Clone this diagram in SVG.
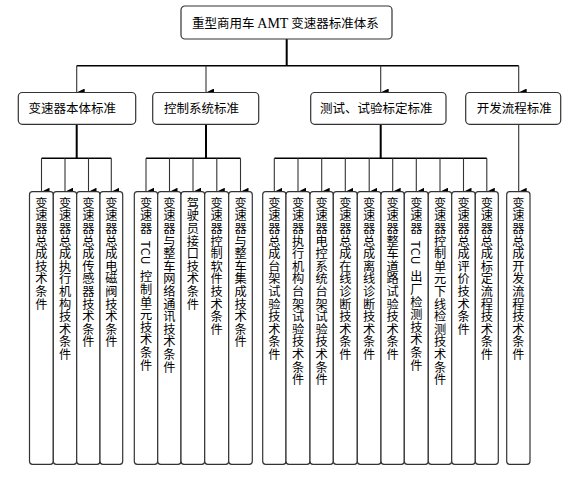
<svg xmlns="http://www.w3.org/2000/svg" width="583" height="478" viewBox="0 0 583 478">
<defs>
<marker id="arr" markerUnits="userSpaceOnUse" markerWidth="8" markerHeight="8" viewBox="0 0 8 8" refX="4" refY="8" orient="auto-start-reverse">
<path d="M0,0 L8,0 L4,8 Z" fill="#000"/>
</marker>
<style>
.box{fill:#fff;stroke:#333;stroke-width:1.2}
.t{font-family:"Noto Sans CJK SC","Liberation Sans",sans-serif;font-size:12.5px;fill:#000}
.v{font-family:"Noto Sans CJK SC","Liberation Sans",sans-serif;font-size:12.2px;fill:#000;writing-mode:vertical-rl;letter-spacing:0.4px}
.ws{word-spacing:2.5px}
.thick{stroke:#000;stroke-width:2;fill:none}
.bus{stroke:#000;stroke-width:1.4;fill:none}
.ar{stroke:#333;stroke-width:1.1;fill:none;marker-end:url(#arr)}
</style>
</defs>
<rect width="583" height="478" fill="#fff"/>
<g id="connectors">
<line class="thick" x1="286.7" y1="39" x2="286.7" y2="65.7"/>
<line class="bus" x1="76.7" y1="65.7" x2="518.7" y2="65.7"/>
<line class="ar" x1="76.7" y1="65.7" x2="76.7" y2="92.5"/>
<line class="ar" x1="206" y1="65.7" x2="206" y2="92.5"/>
<line class="ar" x1="380.7" y1="65.7" x2="380.7" y2="92.5"/>
<line class="ar" x1="518.7" y1="65.7" x2="518.7" y2="92.5"/>
<line class="thick" x1="76.7" y1="124.3" x2="76.7" y2="158.3"/>
<line class="thick" x1="206" y1="124.3" x2="206" y2="158.3"/>
<line class="thick" x1="380.7" y1="124.3" x2="380.7" y2="158.3"/>
<line class="bus" x1="41.5" y1="158.3" x2="111.3" y2="158.3"/>
<line class="bus" x1="146" y1="158.3" x2="240.5" y2="158.3"/>
<line class="bus" x1="274.3" y1="158.3" x2="486.8" y2="158.3"/>
<g>
<line class="ar" x1="41.5" y1="158.3" x2="41.5" y2="191.7"/>
<line class="ar" x1="65" y1="158.3" x2="65" y2="191.7"/>
<line class="ar" x1="88.5" y1="158.3" x2="88.5" y2="191.7"/>
<line class="ar" x1="111.3" y1="158.3" x2="111.3" y2="191.7"/>
<line class="ar" x1="146" y1="158.3" x2="146" y2="191.7"/>
<line class="ar" x1="169.5" y1="158.3" x2="169.5" y2="191.7"/>
<line class="ar" x1="193" y1="158.3" x2="193" y2="191.7"/>
<line class="ar" x1="216.8" y1="158.3" x2="216.8" y2="191.7"/>
<line class="ar" x1="240.5" y1="158.3" x2="240.5" y2="191.7"/>
<line class="ar" x1="274.3" y1="158.3" x2="274.3" y2="191.7"/>
<line class="ar" x1="298" y1="158.3" x2="298" y2="191.7"/>
<line class="ar" x1="321.7" y1="158.3" x2="321.7" y2="191.7"/>
<line class="ar" x1="345.3" y1="158.3" x2="345.3" y2="191.7"/>
<line class="ar" x1="369.2" y1="158.3" x2="369.2" y2="191.7"/>
<line class="ar" x1="392.7" y1="158.3" x2="392.7" y2="191.7"/>
<line class="ar" x1="416.3" y1="158.3" x2="416.3" y2="191.7"/>
<line class="ar" x1="440" y1="158.3" x2="440" y2="191.7"/>
<line class="ar" x1="463.5" y1="158.3" x2="463.5" y2="191.7"/>
<line class="ar" x1="486.8" y1="158.3" x2="486.8" y2="191.7"/>
<line class="ar" x1="518.7" y1="124.3" x2="518.7" y2="191.7"/>
</g>
</g>
<g id="root"><rect class="box" x="181" y="6" width="211" height="33" rx="4"/>
<text class="t" x="192" y="27.5">重型商用车 <tspan font-family="Liberation Serif" font-size="14">AMT</tspan> 变速器标准体系</text></g>
<g id="n1"><rect class="box" x="18.3" y="92.5" width="117.4" height="31.8" rx="4"/><text class="t" x="28.5" y="113">变速器本体标准</text></g>
<g id="n2"><rect class="box" x="152.7" y="92.5" width="106" height="31.8" rx="4"/><text class="t" x="164" y="113">控制系统标准</text></g>
<g id="n3"><rect class="box" x="310.7" y="92.5" width="135.3" height="31.8" rx="4"/><text class="t" x="320" y="113">测试、试验标定标准</text></g>
<g id="n4"><rect class="box" x="465.7" y="92.5" width="95" height="31.8" rx="4"/><text class="t" x="476.7" y="113">开发流程标准</text></g>
<g id="l1"><rect class="box" x="29.5" y="191.7" width="23.8" height="272.6" rx="3"/><text class="v" x="41.4" y="197">变速器总成技术条件</text></g>
<g id="l2"><rect class="box" x="53.3" y="191.7" width="23.4" height="272.6" rx="3"/><text class="v" x="65" y="197">变速器总成执行机构技术条件</text></g>
<g id="l3"><rect class="box" x="76.7" y="191.7" width="23.3" height="272.6" rx="3"/><text class="v" x="88.4" y="197">变速器总成传感器技术条件</text></g>
<g id="l4"><rect class="box" x="100" y="191.7" width="22.7" height="272.6" rx="3"/><text class="v" x="111.3" y="197">变速器总成电磁阀技术条件</text></g>
<g id="l5"><rect class="box" x="134.3" y="191.7" width="23.4" height="272.6" rx="3"/><text class="v ws" x="146" y="197">变速器 TCU 控制单元技术条件</text></g>
<g id="l6"><rect class="box" x="157.7" y="191.7" width="23.3" height="272.6" rx="3"/><text class="v" x="169.4" y="197">变速器与整车网络通讯技术条件</text></g>
<g id="l7"><rect class="box" x="181" y="191.7" width="23.7" height="272.6" rx="3"/><text class="v" x="192.9" y="197">驾驶员接口技术条件</text></g>
<g id="l8"><rect class="box" x="204.7" y="191.7" width="24" height="272.6" rx="3"/><text class="v" x="216.7" y="197">变速器控制软件技术条件</text></g>
<g id="l9"><rect class="box" x="228.7" y="191.7" width="23.6" height="272.6" rx="3"/><text class="v" x="240.5" y="197">变速器与整车集成技术条件</text></g>
<g id="l10"><rect class="box" x="262.7" y="191.7" width="23.3" height="272.6" rx="3"/><text class="v" x="274.3" y="197">变速器总成台架试验技术条件</text></g>
<g id="l11"><rect class="box" x="286" y="191.7" width="24" height="272.6" rx="3"/><text class="v" x="298" y="197">变速器执行机构台架试验技术条件</text></g>
<g id="l12"><rect class="box" x="310" y="191.7" width="23.3" height="272.6" rx="3"/><text class="v" x="321.7" y="197">变速器电控系统台架试验技术条件</text></g>
<g id="l13"><rect class="box" x="333.3" y="191.7" width="24" height="272.6" rx="3"/><text class="v" x="345.3" y="197">变速器总成在线诊断技术条件</text></g>
<g id="l14"><rect class="box" x="357.3" y="191.7" width="23.7" height="272.6" rx="3"/><text class="v" x="369.2" y="197">变速器总成离线诊断技术条件</text></g>
<g id="l15"><rect class="box" x="381" y="191.7" width="23.3" height="272.6" rx="3"/><text class="v" x="392.7" y="197">变速器整车道路试验技术条件</text></g>
<g id="l16"><rect class="box" x="404.3" y="191.7" width="24" height="272.6" rx="3"/><text class="v ws" x="416.3" y="197">变速器 TCU 出厂检测技术条件</text></g>
<g id="l17"><rect class="box" x="428.3" y="191.7" width="23.4" height="272.6" rx="3"/><text class="v" x="440" y="197">变速器控制单元下线检测技术条件</text></g>
<g id="l18"><rect class="box" x="451.7" y="191.7" width="23.6" height="272.6" rx="3"/><text class="v" x="463.5" y="197">变速器总成评价技术条件</text></g>
<g id="l19"><rect class="box" x="475.3" y="191.7" width="23" height="272.6" rx="3"/><text class="v" x="486.8" y="197">变速器总成标定流程技术条件</text></g>
<g id="l20"><rect class="box" x="506.7" y="191.7" width="23.3" height="272.6" rx="3"/><text class="v" x="518.4" y="197">变速器总成开发流程技术条件</text></g>
</svg>
